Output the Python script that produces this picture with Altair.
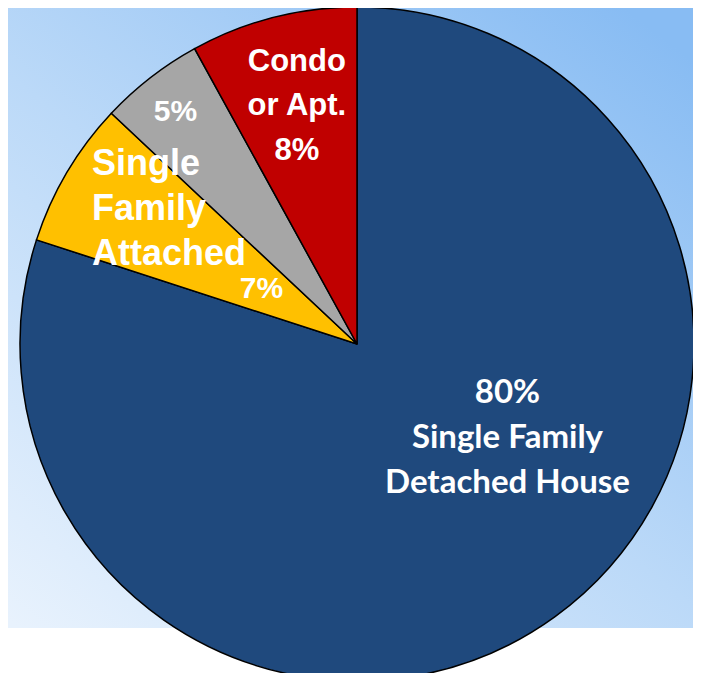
import altair as alt
import pandas as pd

# ---- data ----
categories = ["Single Family Detached House", "Single Family Attached", "Other", "Condo or Apt."]
shares = [80, 7, 5, 8]
order_idx = [0, 1, 2, 3]
colors = ["#1F497D", "#FFC000", "#A6A6A6", "#C00000"]

label_detached = "80%\nSingle Family\nDetached House"
label_attached = "Single\nFamily\nAttached"
label_attached_pct = "7%"
label_other = "5%"
label_condo = "Condo\nor Apt.\n8%"

df = pd.DataFrame({"cat": categories, "value": shares, "idx": order_idx})

W, H = 685, 665
CX, CY = 349, 336
R = 337

bg_df = pd.DataFrame({"a": [0]})
background = alt.Chart(bg_df).mark_rect(
    fill=alt.LinearGradient(
        gradient="linear",
        x1=0.9, y1=0, x2=0.1, y2=1,
        stops=[alt.GradientStop(color="#88BCF3", offset=0),
               alt.GradientStop(color="#BBD9F8", offset=0.5),
               alt.GradientStop(color="#E8F2FD", offset=1)],
    )
).encode(x=alt.value(0), x2=alt.value(W), y=alt.value(0), y2=alt.value(H))

white_band = alt.Chart(bg_df).mark_rect(fill="#FFFFFF").encode(
    x=alt.value(0), x2=alt.value(W), y=alt.value(620), y2=alt.value(H)
)

base = alt.Chart(df).encode(
    theta=alt.Theta("value:Q", stack=True),
    order=alt.Order("idx:Q", sort="ascending"),
    x=alt.value(CX),
    y=alt.value(CY),
)

pie = base.mark_arc(outerRadius=R, stroke="black", strokeWidth=1.5).encode(
    color=alt.Color("cat:N", scale=alt.Scale(domain=categories, range=colors), legend=None)
)


def label_layer(cat, text, radius, dx=0, dy=0, size=30, font="Liberation Sans",
                align="center", line_height=44, weight="bold"):
    expr = "datum.cat == '%s' ? '%s' : ''" % (cat, text.replace("\n", "\\n"))
    return base.transform_calculate(lbl=expr).mark_text(
        radius=radius, dx=dx, dy=dy, fontSize=size, font=font, fontWeight=weight,
        color="white", align=align, baseline="middle", lineBreak="\n",
        lineHeight=line_height,
    ).encode(text=alt.Text("lbl:N"))


t_detached = label_layer(categories[0], label_detached, 176, dx=47, dy=-93,
                         size=33, font="Lato", line_height=45)
t_attached = label_layer(categories[1], label_attached, 265, dx=-37, dy=-45,
                         size=36, align="left", line_height=45)
t_attached_pct = label_layer(categories[1], label_attached_pct, 111, dx=0, dy=2, size=30)
t_other = label_layer(categories[2], label_other, 293, dx=-2, dy=0, size=30)
t_condo = label_layer(categories[3], label_condo, 246, dx=1, dy=-44, size=31, line_height=44.5)

chart = alt.layer(
    background, white_band, pie, t_detached, t_attached, t_attached_pct, t_other, t_condo
).properties(
    width=W, height=H, autosize=alt.AutoSizeParams(type="none"), padding=0
).configure_view(stroke=None).configure(background="white")

chart.save("out.html", embed_options={"renderer": "svg", "actions": False})
